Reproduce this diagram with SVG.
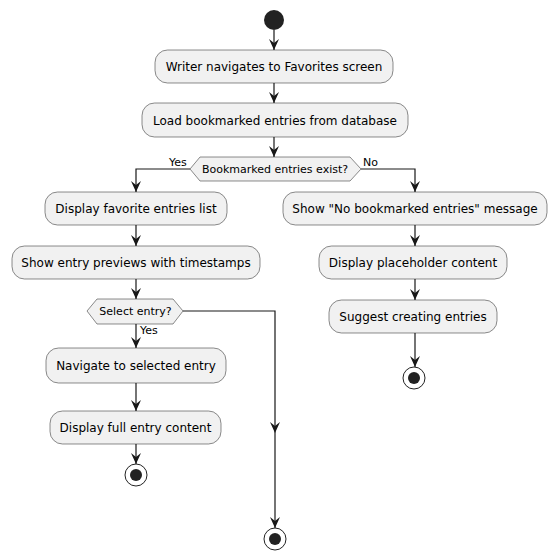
<svg xmlns="http://www.w3.org/2000/svg" width="556" height="560" viewBox="0 0 556 560">
<defs>
<style>
.box{fill:#F1F1F1;stroke:#181818;stroke-width:0.5}
.t{font-family:"DejaVu Sans",sans-serif;font-size:12px;fill:#000;text-anchor:middle}
.dt{font-family:"DejaVu Sans",sans-serif;font-size:11px;fill:#000;text-anchor:middle}
.l{font-family:"DejaVu Sans",sans-serif;font-size:11px;fill:#000}
.ln{fill:none;stroke:#181818;stroke-width:1.2}
</style>
<marker id="ah" viewBox="0 0 11 10" refX="11" refY="5" markerWidth="11" markerHeight="10" orient="auto" markerUnits="userSpaceOnUse">
<polygon points="0,0 11,5 0,10 4,5" fill="#181818"/>
</marker>
</defs>
<rect width="556" height="560" fill="#FFFFFF"/>
<g id="connectors">
<line class="ln" x1="274" y1="30" x2="274" y2="50" marker-end="url(#ah)"/>
<line class="ln" x1="274" y1="83" x2="274" y2="103" marker-end="url(#ah)"/>
<line class="ln" x1="274" y1="137" x2="274" y2="157" marker-end="url(#ah)"/>
<polyline class="ln" points="190,169 136,169 136,192" marker-end="url(#ah)"/>
<polyline class="ln" points="361,169 415,169 415,192" marker-end="url(#ah)"/>
<line class="ln" x1="136" y1="225" x2="136" y2="246" marker-end="url(#ah)"/>
<line class="ln" x1="136" y1="279" x2="136" y2="299" marker-end="url(#ah)"/>
<line class="ln" x1="136" y1="324" x2="136" y2="348" marker-end="url(#ah)"/>
<line class="ln" x1="136" y1="383" x2="136" y2="411" marker-end="url(#ah)"/>
<line class="ln" x1="136" y1="444" x2="136" y2="464" marker-end="url(#ah)"/>
<polyline class="ln" points="183,311 275,311 275,433" marker-end="url(#ah)"/>
<line class="ln" x1="275" y1="433" x2="275" y2="528" marker-end="url(#ah)"/>
<line class="ln" x1="415" y1="225" x2="415" y2="246" marker-end="url(#ah)"/>
<line class="ln" x1="415" y1="279" x2="415" y2="300" marker-end="url(#ah)"/>
<line class="ln" x1="415" y1="333" x2="415" y2="367" marker-end="url(#ah)"/>
<text class="l" x="169" y="166">Yes</text>
<text class="l" x="363" y="166">No</text>
<text class="l" x="140" y="334">Yes</text>
</g>
<g id="start"><circle cx="274" cy="20" r="10" fill="#222222"/></g>
<g id="n1"><rect class="box" x="155" y="50" width="238" height="33" rx="12.5"/><text class="t" x="274" y="71">Writer navigates to Favorites screen</text></g>
<g id="n2"><rect class="box" x="142" y="103" width="266" height="34" rx="12.5"/><text class="t" x="275" y="124.5">Load bookmarked entries from database</text></g>
<g id="d1"><polygon class="box" points="190,169 200,157 350,157 361,169 350,181 200,181"/><text class="dt" x="275" y="173">Bookmarked entries exist?</text></g>
<g id="n3"><rect class="box" x="45" y="192" width="182" height="33" rx="12.5"/><text class="t" x="136" y="213">Display favorite entries list</text></g>
<g id="n4"><rect class="box" x="12" y="246" width="248" height="33" rx="12.5"/><text class="t" x="136" y="267">Show entry previews with timestamps</text></g>
<g id="d2"><polygon class="box" points="87,311 97,299 173,299 183,311 173,324 97,324"/><text class="dt" x="135.5" y="315">Select entry?</text></g>
<g id="n5"><rect class="box" x="46" y="348" width="180" height="35" rx="12.5"/><text class="t" x="136" y="369.5">Navigate to selected entry</text></g>
<g id="n6"><rect class="box" x="50" y="411" width="171" height="33" rx="12.5"/><text class="t" x="135.5" y="432">Display full entry content</text></g>
<g id="end1"><circle cx="136" cy="475" r="11" fill="none" stroke="#222222" stroke-width="1"/><circle cx="136" cy="475" r="6" fill="#222222"/></g>
<g id="end2"><circle cx="275" cy="539" r="11" fill="none" stroke="#222222" stroke-width="1"/><circle cx="275" cy="539" r="6" fill="#222222"/></g>
<g id="n7"><rect class="box" x="283" y="192" width="264" height="33" rx="12.5"/><text class="t" x="415" y="213">Show "No bookmarked entries" message</text></g>
<g id="n8"><rect class="box" x="319" y="246" width="188" height="33" rx="12.5"/><text class="t" x="413" y="267">Display placeholder content</text></g>
<g id="n9"><rect class="box" x="329" y="300" width="168" height="33" rx="12.5"/><text class="t" x="413" y="321">Suggest creating entries</text></g>
<g id="end3"><circle cx="414" cy="378" r="11" fill="none" stroke="#222222" stroke-width="1"/><circle cx="414" cy="378" r="6" fill="#222222"/></g>
</svg>
